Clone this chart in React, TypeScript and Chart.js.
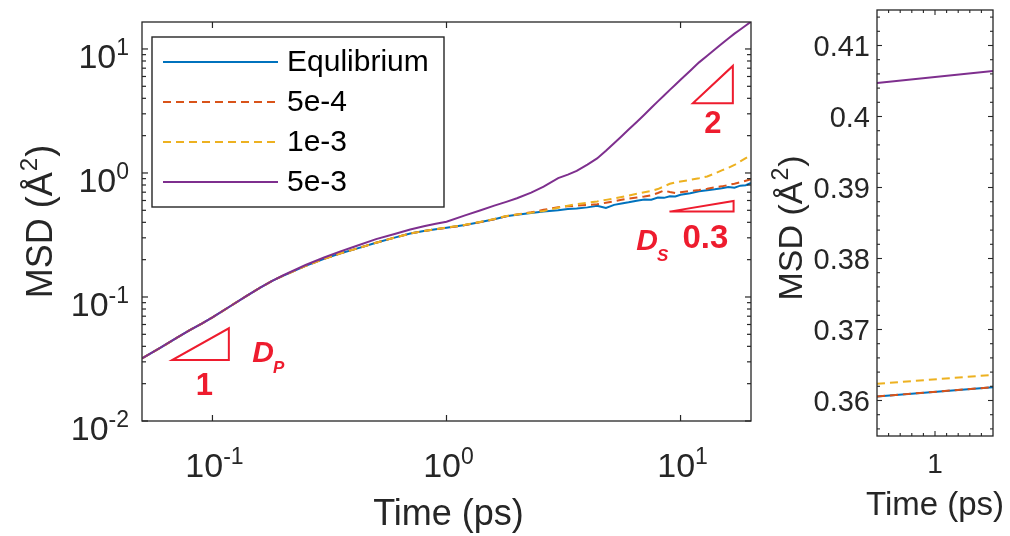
import React, { useEffect, useRef } from "react";
import { Chart, registerables } from "chart.js";
Chart.register(...registerables);

// ---------- data ----------
const time = [0.05, 0.06, 0.07, 0.08, 0.09, 0.1, 0.12, 0.14, 0.16, 0.18, 0.2, 0.25, 0.3, 0.35, 0.4, 0.5, 0.6, 0.7, 0.8, 0.9, 1.0, 1.2, 1.4, 1.6, 1.8, 2.0, 2.3, 2.6, 3.0, 3.3, 3.6, 4.0, 4.4, 4.8, 5.2, 5.6, 6.0, 6.5, 7.0, 7.5, 8.0, 8.5, 9.0, 9.5, 10, 11, 12, 13, 14, 15, 16, 17, 18, 19, 20];

const msdEquilibrium = [0.032, 0.039, 0.0465, 0.054, 0.061, 0.0685, 0.085, 0.102, 0.119, 0.135, 0.148, 0.178, 0.203, 0.224, 0.241, 0.274, 0.301, 0.325, 0.34, 0.352, 0.361, 0.38, 0.402, 0.424, 0.448, 0.46, 0.476, 0.49, 0.5, 0.512, 0.518, 0.528, 0.545, 0.522, 0.553, 0.568, 0.58, 0.598, 0.612, 0.608, 0.633, 0.63, 0.65, 0.646, 0.668, 0.686, 0.712, 0.726, 0.738, 0.752, 0.772, 0.762, 0.79, 0.797, 0.83];

const msd5e4 = [0.032, 0.039, 0.0465, 0.054, 0.061, 0.0685, 0.085, 0.102, 0.119, 0.135, 0.148, 0.178, 0.203, 0.224, 0.241, 0.274, 0.301, 0.325, 0.34, 0.352, 0.361, 0.38, 0.402, 0.424, 0.448, 0.462, 0.482, 0.505, 0.53, 0.538, 0.545, 0.553, 0.56, 0.575, 0.59, 0.608, 0.622, 0.633, 0.645, 0.662, 0.69, 0.722, 0.702, 0.69, 0.7, 0.716, 0.73, 0.746, 0.765, 0.78, 0.8, 0.82, 0.842, 0.866, 0.89];

const msd1e3 = [0.032, 0.039, 0.0465, 0.054, 0.061, 0.0685, 0.085, 0.102, 0.119, 0.135, 0.148, 0.178, 0.203, 0.224, 0.241, 0.274, 0.301, 0.325, 0.34, 0.352, 0.3625, 0.382, 0.404, 0.426, 0.449, 0.463, 0.478, 0.494, 0.525, 0.545, 0.56, 0.575, 0.59, 0.607, 0.622, 0.64, 0.658, 0.68, 0.7, 0.716, 0.742, 0.78, 0.818, 0.84, 0.855, 0.88, 0.908, 0.938, 0.99, 1.05, 1.1, 1.16, 1.24, 1.32, 1.4];

const msd5e3 = [0.032, 0.039, 0.0465, 0.054, 0.061, 0.0685, 0.085, 0.102, 0.119, 0.135, 0.149, 0.181, 0.208, 0.232, 0.253, 0.293, 0.322, 0.35, 0.372, 0.39, 0.405, 0.455, 0.5, 0.545, 0.585, 0.625, 0.695, 0.775, 0.91, 0.97, 1.04, 1.17, 1.31, 1.51, 1.74, 1.98, 2.24, 2.58, 2.95, 3.36, 3.78, 4.22, 4.68, 5.15, 5.64, 6.68, 7.8, 8.82, 9.89, 11.0, 12.15, 13.3, 14.37, 15.47, 16.6];

const seriesLabels = ["Equlibrium", "5e-4", "1e-3", "5e-3"];
const seriesValues = [msdEquilibrium, msd5e4, msd1e3, msd5e3];

const xMajorTicks = [0.1, 1, 10];
const xTickExponents = ["-1", "0", "1"];
const yMajorTicks = [0.01, 0.1, 1, 10];
const yTickExponents = ["-2", "-1", "0", "1"];

// inset (zoom around t = 1 ps)
const insetTime = [0.99, 1.01];
const insetEquilibrium = [0.36057, 0.36188];
const inset5e4 = [0.36057, 0.36188];
const inset1e3 = [0.36235, 0.36362];
const inset5e3 = [0.4047, 0.4064];
const insetValues = [insetEquilibrium, inset5e4, inset1e3, inset5e3];
const insetYTicks = [0.36, 0.37, 0.38, 0.39, 0.4, 0.41];
const insetYTickLabels = ["0.36", "0.37", "0.38", "0.39", "0.4", "0.41"];
const insetXTicks = [1];
const insetXTickLabels = ["1"];

// annotations (data coordinates)
const slopeTriangles = [
  [[0.0673, 0.031], [0.1175, 0.031], [0.1175, 0.0559]],
  [[11.29, 3.65], [16.73, 3.65], [16.73, 7.3]],
  [[8.97, 0.488], [16.85, 0.488], [16.85, 0.594]],
];
const slopeLabels = [
  { text: "1", x: 0.0924, y: 0.0191 },
  { text: "2", x: 13.74, y: 2.48 },
  { text: "0.3", x: 12.76, y: 0.294 },
];
const regimeLabels = [
  { main: "D", sub: "P", x: 0.148, y: 0.03 },
  { main: "D", sub: "S", x: 6.47, y: 0.239 },
];

// ---------- styles ----------
const COLORS = ["#0072BD", "#D95319", "#EDB120", "#7E2F8E"];
const DASHES = [[], [8, 5], [8, 5], []];
const AX = "#262626";
const RED = "#EE1C2E";
const FF = "'Liberation Sans', Arial, Helvetica, sans-serif";

function drawPow(ctx, base, exp, x, baseline, align, bSize, eSize, rise) {
  ctx.font = `${bSize}px ${FF}`;
  const wb = ctx.measureText(base).width;
  ctx.font = `${eSize}px ${FF}`;
  const we = ctx.measureText(exp).width;
  const total = wb + we;
  const start = align === "center" ? x - total / 2 : x - total;
  ctx.textAlign = "left";
  ctx.textBaseline = "alphabetic";
  ctx.font = `${bSize}px ${FF}`;
  ctx.fillText(base, start, baseline);
  ctx.font = `${eSize}px ${FF}`;
  ctx.fillText(exp, start + wb, baseline - rise);
}

function drawYTitle(ctx, bx, cy, size, supSize) {
  ctx.save();
  ctx.translate(bx, cy);
  ctx.rotate(-Math.PI / 2);
  ctx.fillStyle = AX;
  ctx.textBaseline = "alphabetic";
  ctx.textAlign = "left";
  const p1 = "MSD (Å";
  const p2 = "2";
  const p3 = ")";
  ctx.font = `${size}px ${FF}`;
  const w1 = ctx.measureText(p1).width;
  const w3 = ctx.measureText(p3).width;
  ctx.font = `${supSize}px ${FF}`;
  const w2 = ctx.measureText(p2).width;
  const total = w1 + w2 + w3 + 2;
  let u = -total / 2;
  ctx.font = `${size}px ${FF}`;
  ctx.fillText(p1, u, 0);
  u += w1 + 1;
  ctx.font = `${supSize}px ${FF}`;
  ctx.fillText(p2, u, -size * 0.42);
  u += w2 + 1;
  ctx.font = `${size}px ${FF}`;
  ctx.fillText(p3, u, 0);
  ctx.restore();
}

function line(ctx, x1, y1, x2, y2) {
  ctx.beginPath();
  ctx.moveTo(x1, y1);
  ctx.lineTo(x2, y2);
  ctx.stroke();
}

const mainDecor = {
  id: "mainDecor",
  afterDraw(chart) {
    const { ctx, chartArea: a } = chart;
    const x = chart.scales.x;
    const y = chart.scales.y;
    ctx.save();
    // box
    ctx.strokeStyle = AX;
    ctx.lineWidth = 1.3;
    ctx.setLineDash([]);
    ctx.strokeRect(a.left, a.top, a.right - a.left, a.bottom - a.top);
    // x ticks (major only)
    ctx.lineWidth = 1.2;
    xMajorTicks.forEach((v) => {
      const px = x.getPixelForValue(v);
      line(ctx, px, a.bottom, px, a.bottom - 6);
      line(ctx, px, a.top, px, a.top + 6);
    });
    // y ticks major + minor
    yMajorTicks.forEach((v) => {
      const py = y.getPixelForValue(v);
      line(ctx, a.left, py, a.left + 6, py);
      line(ctx, a.right, py, a.right - 6, py);
    });
    const yMax = y.max;
    yMajorTicks.forEach((dec) => {
      for (let k = 2; k <= 9; k++) {
        const v = dec * k;
        if (v > yMax) break;
        const py = y.getPixelForValue(v);
        line(ctx, a.left, py, a.left + 4, py);
        line(ctx, a.right, py, a.right - 4, py);
      }
    });
    // tick labels
    ctx.fillStyle = AX;
    xMajorTicks.forEach((v, i) => {
      const px = x.getPixelForValue(v);
      drawPow(ctx, "10", xTickExponents[i], px + 2, a.bottom + 56, "center", 34, 23, 13);
    });
    yMajorTicks.forEach((v, i) => {
      const py = y.getPixelForValue(v);
      drawPow(ctx, "10", yTickExponents[i], a.left - 13, py + 19, "right", 34, 23, 13);
    });
    // axis titles
    ctx.font = `36px ${FF}`;
    ctx.textAlign = "center";
    ctx.textBaseline = "alphabetic";
    ctx.fillText("Time (ps)", (a.left + a.right) / 2 + 2, a.bottom + 104);
    drawYTitle(ctx, 52, (a.top + a.bottom) / 2, 36, 24);

    // annotations: slope triangles
    ctx.strokeStyle = RED;
    ctx.lineWidth = 2;
    ctx.lineJoin = "miter";
    slopeTriangles.forEach((tri) => {
      ctx.beginPath();
      tri.forEach(([tx, ty], j) => {
        const px = x.getPixelForValue(tx);
        const py = y.getPixelForValue(ty);
        if (j === 0) ctx.moveTo(px, py);
        else ctx.lineTo(px, py);
      });
      ctx.closePath();
      ctx.stroke();
    });
    ctx.fillStyle = RED;
    ctx.textAlign = "center";
    ctx.textBaseline = "middle";
    slopeLabels.forEach((l) => {
      ctx.font = `bold ${l.text.length > 1 ? 33 : 31}px ${FF}`;
      ctx.fillText(l.text, x.getPixelForValue(l.x), y.getPixelForValue(l.y));
    });
    ctx.textAlign = "left";
    ctx.textBaseline = "alphabetic";
    regimeLabels.forEach((l) => {
      const px = x.getPixelForValue(l.x);
      const py = y.getPixelForValue(l.y);
      ctx.font = `italic bold 30px ${FF}`;
      const wd = ctx.measureText(l.main).width;
      ctx.fillText(l.main, px, py);
      ctx.font = `italic bold 17px ${FF}`;
      ctx.fillText(l.sub, px + wd - 1, py + 11);
    });

    // legend
    const lx = a.left + 10;
    const ly = a.top + 15;
    const lw = 292;
    const lh = 170;
    ctx.fillStyle = "#ffffff";
    ctx.fillRect(lx, ly, lw, lh);
    ctx.strokeStyle = AX;
    ctx.lineWidth = 1.4;
    ctx.strokeRect(lx, ly, lw, lh);
    seriesLabels.forEach((lab, i) => {
      const yc = ly + 25 + i * 40;
      ctx.strokeStyle = COLORS[i];
      ctx.lineWidth = 1.9;
      ctx.setLineDash(DASHES[i]);
      line(ctx, lx + 11, yc, lx + 126, yc);
      ctx.setLineDash([]);
      ctx.fillStyle = "#000000";
      ctx.font = `30px ${FF}`;
      ctx.textAlign = "left";
      ctx.textBaseline = "middle";
      ctx.fillText(lab, lx + 135, yc + 1);
    });
    ctx.restore();
  },
};

const insetDecor = {
  id: "insetDecor",
  afterDraw(chart) {
    const { ctx, chartArea: a } = chart;
    const x = chart.scales.x;
    const y = chart.scales.y;
    ctx.save();
    ctx.strokeStyle = AX;
    ctx.lineWidth = 1.3;
    ctx.strokeRect(a.left, a.top, a.right - a.left, a.bottom - a.top);
    ctx.lineWidth = 1.1;
    // x ticks: minor every 0.002
    for (let k = 1; k <= 9; k++) {
      const v = x.min + k * 0.002;
      const px = x.getPixelForValue(v);
      const len = k === 5 ? 5 : 3;
      line(ctx, px, a.bottom, px, a.bottom - len);
      line(ctx, px, a.top, px, a.top + len);
    }
    // y ticks: minor every 0.002
    for (let k = 0; k <= 30; k++) {
      const v = 0.356 + k * 0.002;
      if (v >= y.max) break;
      const py = y.getPixelForValue(v);
      const major = k % 5 === 2;
      const len = major ? 5 : 3;
      line(ctx, a.left, py, a.left + len, py);
      line(ctx, a.right, py, a.right - len, py);
    }
    // labels
    ctx.fillStyle = AX;
    ctx.font = `29px ${FF}`;
    ctx.textAlign = "right";
    ctx.textBaseline = "middle";
    insetYTicks.forEach((v, i) => {
      ctx.fillText(insetYTickLabels[i], a.left - 7, y.getPixelForValue(v) + 2);
    });
    ctx.font = `28px ${FF}`;
    ctx.textAlign = "center";
    ctx.textBaseline = "alphabetic";
    insetXTicks.forEach((v, i) => {
      ctx.fillText(insetXTickLabels[i], x.getPixelForValue(v), a.bottom + 37);
    });
    ctx.font = `33px ${FF}`;
    ctx.fillText("Time (ps)", (a.left + a.right) / 2, a.bottom + 79);
    drawYTitle(ctx, 32, (a.top + a.bottom) / 2 + 5, 34, 23);
    ctx.restore();
  },
};

function makeDatasets(xs, ys) {
  return seriesLabels.map((label, i) => ({
    label,
    data: xs.map((t, j) => ({ x: t, y: ys[i][j] })),
    borderColor: COLORS[i],
    borderDash: DASHES[i],
    borderWidth: 2,
    pointRadius: 0,
    fill: false,
    tension: 0,
    order: 4 - i,
  }));
}

export default function App() {
  const mainRef = useRef(null);
  const insetRef = useRef(null);

  useEffect(() => {
    const main = new Chart(mainRef.current, {
      type: "line",
      data: { datasets: makeDatasets(time, seriesValues) },
      options: {
        responsive: false,
        animation: false,
        events: [],
        layout: { padding: { left: 142, right: 19, top: 22, bottom: 115 } },
        scales: {
          x: { type: "logarithmic", min: 0.05, max: 20, display: false },
          y: { type: "logarithmic", min: 0.01, max: 16.5, display: false },
        },
        plugins: { legend: { display: false }, tooltip: { enabled: false } },
      },
      plugins: [mainDecor],
    });
    const inset = new Chart(insetRef.current, {
      type: "line",
      data: { datasets: makeDatasets(insetTime, insetValues) },
      options: {
        responsive: false,
        animation: false,
        events: [],
        layout: { padding: { left: 107, right: 17, top: 10, bottom: 100 } },
        scales: {
          x: { type: "linear", min: 0.99, max: 1.01, display: false },
          y: { type: "linear", min: 0.355, max: 0.415, display: false },
        },
        plugins: { legend: { display: false }, tooltip: { enabled: false } },
      },
      plugins: [insetDecor],
    });
    return () => {
      main.destroy();
      inset.destroy();
    };
  }, []);

  return (
    <div style={{ position: "absolute", left: 0, top: 0, width: 1010, height: 536, background: "#ffffff" }}>
      <canvas ref={mainRef} width={770} height={536} style={{ position: "absolute", left: 0, top: 0, width: 770, height: 536 }} />
      <canvas ref={insetRef} width={240} height={536} style={{ position: "absolute", left: 770, top: 0, width: 240, height: 536 }} />
    </div>
  );
}
